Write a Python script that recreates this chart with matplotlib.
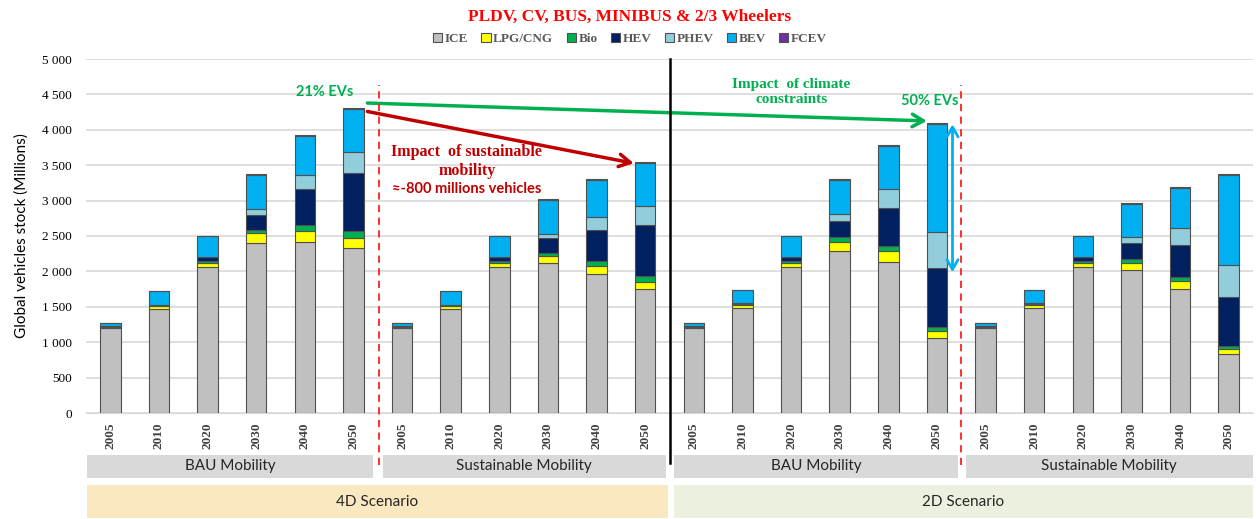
import matplotlib.pyplot as plt
import matplotlib.transforms as mtransforms
from matplotlib.patches import Rectangle
from matplotlib.ticker import FuncFormatter
import numpy as np

years = ['2005', '2010', '2020', '2030', '2040', '2050']
groups = ['BAU Mobility', 'Sustainable Mobility', 'BAU Mobility', 'Sustainable Mobility']
scenarios = ['4D Scenario', '2D Scenario']

# stock by technology (millions), 4 groups x 6 years
ice = [1200, 1470, 2060, 2400, 2410, 2330,
       1200, 1470, 2060, 2120, 1960, 1750,
       1200, 1490, 2060, 2290, 2130, 1060,
       1200, 1490, 2060, 2020, 1750, 830]
lpg = [20, 35, 65, 140, 160, 140,
       20, 35, 65, 95, 110, 95,
       20, 35, 65, 130, 155, 100,
       20, 35, 65, 100, 115, 70]
bio = [10, 15, 15, 50, 85, 105,
       10, 15, 15, 45, 70, 95,
       10, 15, 15, 70, 75, 55,
       10, 15, 15, 50, 60, 50]
hev = [5, 10, 70, 210, 510, 810,
       5, 10, 70, 210, 440, 720,
       5, 20, 70, 225, 535, 840,
       5, 20, 70, 225, 445, 690]
phev = [0, 0, 0, 85, 200, 295,
        0, 0, 0, 60, 190, 270,
        0, 0, 0, 95, 270, 495,
        0, 0, 0, 85, 250, 445]
bev = [35, 195, 295, 475, 550, 615,
       35, 195, 295, 485, 520, 595,
       35, 180, 295, 480, 610, 1530,
       35, 180, 295, 470, 555, 1270]
fcev = [0, 0, 0, 10, 15, 15,
        0, 0, 0, 10, 15, 15,
        0, 0, 0, 10, 15, 15,
        0, 0, 0, 10, 15, 15]

series = [('ICE', ice, '#c0c0c0'), ('LPG/CNG', lpg, '#ffff00'), ('Bio', bio, '#00b050'),
          ('HEV', hev, '#002060'), ('PHEV', phev, '#92cddc'), ('BEV', bev, '#00b0f0'),
          ('FCEV', fcev, '#7030a0')]

SERIF = 'Liberation Serif'
SANS = 'Lato'

fig = plt.figure(figsize=(12.56, 5.19), dpi=100)
ax = fig.add_axes([86 / 1256, 106 / 519, (1253 - 86) / 1256, 354 / 519])

x = np.arange(len(ice))
bottom = np.zeros(len(ice))
handles = []
for name, vals, col in series:
    b = ax.bar(x, vals, width=0.42, bottom=bottom, color=col, edgecolor='#505050',
               linewidth=0.8, label=name, zorder=3)
    handles.append(b)
    bottom += np.array(vals)

ax.set_xlim(-0.5, len(ice) - 0.5)
ax.set_ylim(0, 5000)
ax.set_yticks(np.arange(0, 5001, 500))
ax.yaxis.set_major_formatter(FuncFormatter(lambda v, p: f'{int(v):,}'.replace(',', ' ')))
ax.grid(axis='y', color='#d9d9d9', linewidth=1.2, zorder=0)
for s in ['top', 'right', 'left']:
    ax.spines[s].set_visible(False)
ax.spines['bottom'].set_color('#d9d9d9')
ax.tick_params(axis='y', length=0, pad=10)
for lab in ax.get_yticklabels():
    lab.set_fontfamily(SERIF)
    lab.set_fontsize(9.5)
ax.set_xticks(x)
ax.set_xticklabels(years * 4, rotation=90, fontfamily=SERIF, fontweight='bold',
                   fontsize=9.5, color='#404040')
ax.tick_params(axis='x', length=0, pad=7)
ax.set_ylabel('Global vehicles stock (Millions)', fontfamily=SANS, fontsize=11, labelpad=10)

# group / scenario boxes under the axis
trans = mtransforms.blended_transform_factory(ax.transData, ax.transAxes)
gspans = [(-0.47, 5.41), (5.6, 11.42), (11.59, 17.43), (17.59, 23.5)]
for (a, b), g in zip(gspans, groups):
    ax.add_patch(Rectangle((a, -0.183), b - a, 0.065, transform=trans, clip_on=False,
                           facecolor='#d9d9d9', edgecolor='none'))
    ax.text((a + b) / 2, -0.151, g, transform=trans, ha='center', va='center',
            fontfamily=SANS, fontsize=11, color='#262626')
sspans = [(-0.47, 11.46, '#fae8c0'), (11.59, 23.5, '#ebf1de')]
for (a, b, c), sname in zip(sspans, scenarios):
    ax.add_patch(Rectangle((a, -0.297), b - a, 0.093, transform=trans, clip_on=False,
                           facecolor=c, edgecolor='none'))
    ax.text((a + b) / 2, -0.25, sname, transform=trans, ha='center', va='center',
            fontfamily=SANS, fontsize=11, color='#262626')

# separators
for xv in [5.52, 17.5]:
    ax.plot([xv, xv], [-0.147, 0.927], transform=trans, clip_on=False, color='#ff2020',
            linestyle=(0, (4, 3)), linewidth=1.3, zorder=4)
ax.plot([11.5, 11.5], [-0.14, 1.0], transform=trans, clip_on=False, color='black',
        linewidth=1.8, zorder=4)

# annotations
ax.annotate('', xy=(16.85, 4124), xytext=(5.23, 4379),
            arrowprops=dict(arrowstyle='->,head_length=0.8,head_width=0.45', color='#00b050', lw=2.5))
ax.annotate('', xy=(10.82, 3520), xytext=(5.23, 4266),
            arrowprops=dict(arrowstyle='->,head_length=0.8,head_width=0.45', color='#c00000', lw=2.5))
ax.annotate('', xy=(17.32, 1950), xytext=(17.32, 4117),
            arrowprops=dict(arrowstyle='<->,head_length=0.7,head_width=0.4', color='#00b0f0', lw=2.0))
ax.text(4.41, 4534, '21% EVs', ha='center', va='center', color='#00b050',
        fontfamily=SANS, fontweight='bold', fontsize=10.5)
ax.text(16.85, 4410, '50% EVs', ha='center', va='center', color='#00b050',
        fontfamily=SANS, fontweight='bold', fontsize=10.5)
ax.text(14.01, 4540, 'Impact  of climate\nconstraints', ha='center', va='center',
        color='#00b050', fontfamily=SERIF, fontweight='bold', fontsize=11, linespacing=1.2)
ax.text(7.33, 3555, 'Impact  of sustainable\nmobility', ha='center', va='center',
        color='#c00000', fontfamily=SERIF, fontweight='bold', fontsize=11.5, linespacing=1.25)
ax.text(7.33, 3160, '\u2248-800 millions vehicles', ha='center', va='center',
        color='#c00000', fontfamily=SANS, fontweight='bold', fontsize=10.5)

fig.text(0.5016, 0.967, 'PLDV, CV, BUS, MINIBUS & 2/3 Wheelers', ha='center', va='center',
         color='#ff0000', fontfamily=SERIF, fontweight='bold', fontsize=12.5)
leg = fig.legend(handles=handles, loc='center', bbox_to_anchor=(0.5016, 0.925), ncol=7,
                 frameon=False, handlelength=0.7, handleheight=0.7, handletextpad=0.2,
                 columnspacing=1.0, prop={'family': SERIF, 'weight': 'bold', 'size': 9.5})
for t in leg.get_texts():
    t.set_color('#595959')

fig.savefig('out.png', dpi=100)
